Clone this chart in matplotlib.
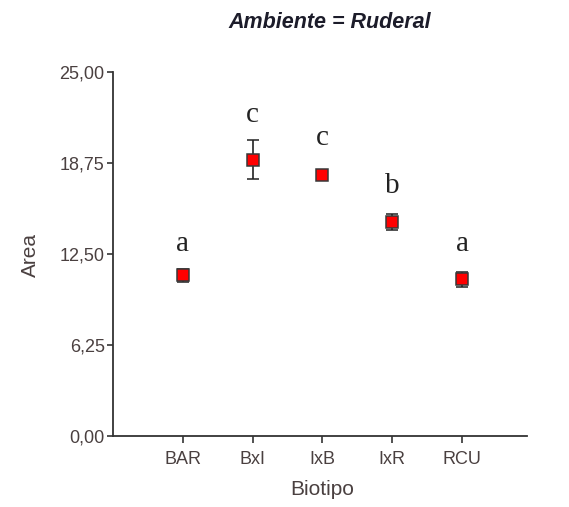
import matplotlib
matplotlib.use("Agg")
from matplotlib import pyplot as plt
from matplotlib.ticker import FuncFormatter

plt.rcParams["font.family"] = ["Liberation Sans", "DejaVu Sans"]

### data
biotipos = ["BAR", "BxI", "IxB", "IxR", "RCU"]
area_mean = [11.05, 19.0, 17.95, 14.72, 10.76]
area_err = [0.45, 1.35, 0.35, 0.55, 0.5]
letras = ["a", "c", "c", "b", "a"]
letra_y = [12.7, 21.6, 20.0, 16.7, 12.7]
y_ticks = [0, 6.25, 12.5, 18.75, 25]

txt_col = "#4a4040"
axis_col = "#333333"

fig = plt.figure(figsize=(5.69, 5.07), dpi=100)
ax = fig.add_axes([0.1986, 0.1406, 0.7276, 0.7168])

x = list(range(1, len(biotipos) + 1))
ax.errorbar(x, area_mean, yerr=area_err, fmt="s", color="#222222",
            markerfacecolor="red", markeredgecolor="#383838",
            markeredgewidth=1.1, markersize=8, elinewidth=1.2,
            capsize=4.3, capthick=1.2, zorder=3)

for xi, l, ly in zip(x, letras, letra_y):
    ax.text(xi, ly, l, ha="center", va="baseline", fontsize=21,
            family="Liberation Serif", color="#222222")

ax.set_xlim(0, 5.93)
ax.set_ylim(0, 25)
ax.set_xticks(x)
ax.set_xticklabels(biotipos)
ax.set_yticks(y_ticks)
ax.yaxis.set_major_formatter(FuncFormatter(lambda v, p: ("%.2f" % v).replace(".", ",")))

for s in ["top", "right"]:
    ax.spines[s].set_visible(False)
for s in ["left", "bottom"]:
    ax.spines[s].set_color(axis_col)
    ax.spines[s].set_linewidth(1.3)

ax.tick_params(axis="y", length=4, width=1.2, colors=axis_col, labelcolor=txt_col,
               labelsize=13, pad=2)
ax.tick_params(axis="x", length=5, width=1.2, colors=axis_col, labelcolor=txt_col,
               labelsize=13, pad=6)

ax.set_xlabel("Biotipo", fontsize=15, color=txt_col)
ax.set_ylabel("Area", fontsize=15, color=txt_col)
ax.xaxis.set_label_coords(0.505, -0.149)
ax.yaxis.set_label_coords(-0.2005, 0.497)
ax.xaxis.label.set_va("center")
ax.yaxis.label.set_va("center")

fig.text(228 / 569, 1 - 23 / 507, "Ambiente = Ruderal", ha="left", va="center",
         fontsize=15.5, fontweight="bold", fontstyle="italic", color="#1c1c2a")

plt.savefig("out.png", dpi=100)
